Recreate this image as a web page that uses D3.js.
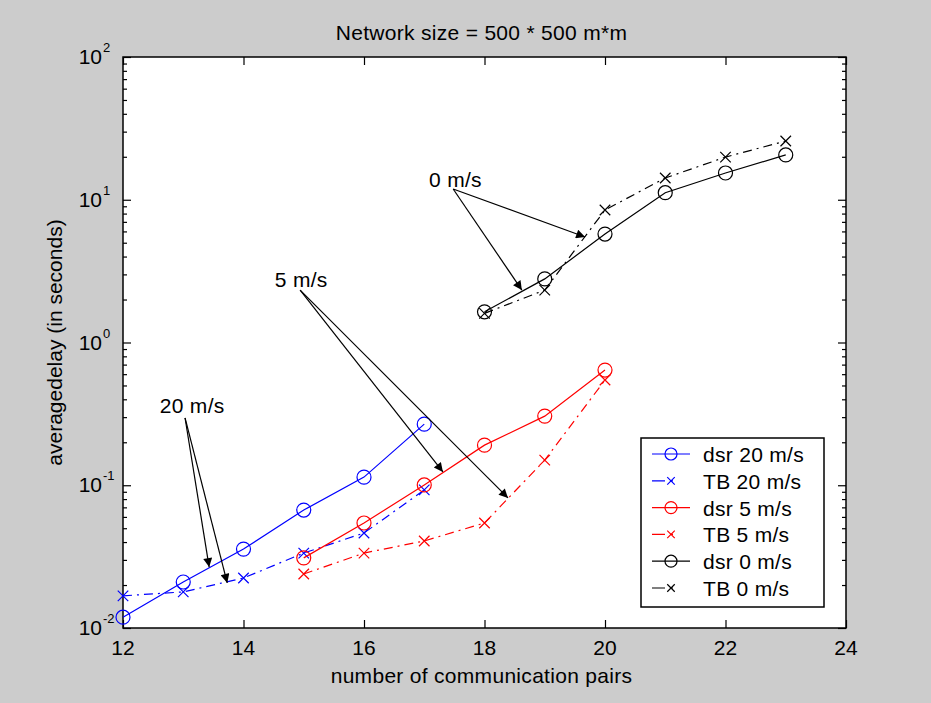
<!DOCTYPE html>
<html>
<head>
<meta charset="utf-8">
<script src="https://cdn.jsdelivr.net/npm/d3@7"></script>
<style>
  body { margin: 0; background: #cccccc; }
  svg { display: block; font-family: "Liberation Sans", Arial, sans-serif; }
  .lbl { letter-spacing: 0.3px; }
</style>
</head>
<body>
<svg width="931" height="703"></svg>
<script>
// data
const pairs20 = [12, 13, 14, 15, 16, 17];
const dsr20 = [0.0119, 0.021, 0.0357, 0.067, 0.114, 0.268];
const tb20 = [0.0168, 0.0179, 0.0224, 0.0335, 0.0463, 0.0927];

const pairs5 = [15, 16, 17, 18, 19, 20];
const dsr5 = [0.031, 0.0544, 0.1005, 0.191, 0.305, 0.641];
const tb5 = [0.0239, 0.0335, 0.0407, 0.0544, 0.150, 0.546];

const pairs0 = [18, 19, 20, 21, 22, 23];
const dsr0 = [1.64, 2.79, 5.75, 11.2, 15.4, 20.6];
const tb0 = [1.6, 2.33, 8.48, 14.2, 19.9, 25.8];

const xTicks = [12, 14, 16, 18, 20, 22, 24];
const yExps = [-2, -1, 0, 1, 2];

const seriesNames = ["dsr 20 m/s", "TB 20 m/s", "dsr 5 m/s", "TB 5 m/s", "dsr 0 m/s", "TB 0 m/s"];

// annotations (data coordinates)
const noteText = ["0 m/s", "5 m/s", "20 m/s"];
const noteAt = [[17.08, 12.3], [14.52, 2.45], [12.61, 0.321]];
const noteFrom = [[17.48, 11.9], [14.94, 2.33], [13.03, 0.296]];
const noteTo = [
    [[19.67, 5.48], [18.62, 2.33]],
    [[17.31, 0.124], [18.39, 0.0815]],
    [[13.43, 0.0267], [13.73, 0.0207]]
];

const svg = d3.select("svg");
const W = +svg.attr("width");
const H = +svg.attr("height");

svg.append("rect").attr("width", W).attr("height", H).attr("fill", "#cccccc");

const pLeft = 123, pRight = 846, pTop = 57, pBottom = 628;

const x = d3.scaleLinear().domain([12, 24]).range([pLeft, pRight]);
const y = d3.scaleLog().domain([0.01, 100]).range([pBottom, pTop]);

svg.append("rect")
    .attr("x", pLeft).attr("y", pTop)
    .attr("width", pRight - pLeft).attr("height", pBottom - pTop)
    .attr("fill", "#fff");

// minor ticks on log scale
const minor = [];
yExps.slice(0, -1).forEach(e => {
    for (let m = 2; m <= 9; m++) minor.push(m * Math.pow(10, e));
});
const major = yExps.map(e => Math.pow(10, e));

function axisStyle(g) {
    g.select(".domain").remove();
    g.selectAll("line").attr("stroke", "#000").attr("stroke-width", 1.2);
    g.selectAll("text").remove();
}

svg.append("g").attr("transform", `translate(0,${pBottom})`)
    .call(d3.axisBottom(x).tickValues(xTicks).tickSize(-8)).call(axisStyle);
svg.append("g").attr("transform", `translate(0,${pTop})`)
    .call(d3.axisTop(x).tickValues(xTicks).tickSize(-8)).call(axisStyle);
svg.append("g").attr("transform", `translate(${pLeft},0)`)
    .call(d3.axisLeft(y).tickValues(major).tickSize(-8)).call(axisStyle);
svg.append("g").attr("transform", `translate(${pLeft},0)`)
    .call(d3.axisLeft(y).tickValues(minor).tickSize(-4)).call(axisStyle);
svg.append("g").attr("transform", `translate(${pRight},0)`)
    .call(d3.axisRight(y).tickValues(major).tickSize(-8)).call(axisStyle);
svg.append("g").attr("transform", `translate(${pRight},0)`)
    .call(d3.axisRight(y).tickValues(minor).tickSize(-4)).call(axisStyle);

svg.append("rect")
    .attr("x", pLeft).attr("y", pTop)
    .attr("width", pRight - pLeft).attr("height", pBottom - pTop)
    .attr("fill", "none").attr("stroke", "#000").attr("stroke-width", 1.5);

// tick labels
svg.append("g").selectAll("text")
    .data(xTicks).enter().append("text")
    .attr("x", d => x(d)).attr("y", pBottom + 27)
    .attr("text-anchor", "middle")
    .attr("font-size", 21)
    .text(d => d);

const yl = svg.append("g").selectAll("g")
    .data(yExps).enter().append("g");
yl.append("text")
    .attr("x", pLeft - 21).attr("y", d => y(Math.pow(10, d)) + 7)
    .attr("text-anchor", "end").attr("font-size", 21)
    .text("10");
yl.append("text")
    .attr("x", pLeft - 20).attr("y", d => y(Math.pow(10, d)) - 5)
    .attr("font-size", 13)
    .text(d => d);

// titles
svg.append("text").attr("class", "lbl")
    .attr("x", (pLeft + pRight) / 2 - 3).attr("y", 40)
    .attr("text-anchor", "middle").attr("font-size", 21)
    .text("Network size = 500 * 500 m*m");
svg.append("text").attr("class", "lbl")
    .attr("x", (pLeft + pRight) / 2 - 3).attr("y", 683)
    .attr("text-anchor", "middle").attr("font-size", 21)
    .text("number of communication pairs");
svg.append("text")
    .attr("transform", `translate(62,${(pTop + pBottom) / 2}) rotate(-90)`)
    .attr("text-anchor", "middle").attr("font-size", 21)
    .text("averagedelay (in seconds)");

// series
const series = [
    { xs: pairs20, ys: dsr20, color: "#0000ff", marker: "o" },
    { xs: pairs20, ys: tb20, color: "#0000ff", marker: "x" },
    { xs: pairs5, ys: dsr5, color: "#ff0000", marker: "o" },
    { xs: pairs5, ys: tb5, color: "#ff0000", marker: "x" },
    { xs: pairs0, ys: dsr0, color: "#000000", marker: "o" },
    { xs: pairs0, ys: tb0, color: "#000000", marker: "x" }
];

const line = d3.line().x(d => x(d[0])).y(d => y(d[1]));

function drawMarker(g, kind, cx, cy, color, r) {
    if (kind === "o") {
        g.append("circle").attr("cx", cx).attr("cy", cy).attr("r", r)
            .attr("fill", "none").attr("stroke", color).attr("stroke-width", 1.2);
    } else {
        const s = r * 0.75;
        g.append("path")
            .attr("d", `M${cx - s},${cy - s}L${cx + s},${cy + s}M${cx - s},${cy + s}L${cx + s},${cy - s}`)
            .attr("stroke", color).attr("stroke-width", 1.2);
    }
}

const plot = svg.append("g");
series.forEach(s => {
    const pts = s.xs.map((v, i) => [v, s.ys[i]]);
    plot.append("path")
        .attr("d", line(pts))
        .attr("fill", "none")
        .attr("stroke", s.color)
        .attr("stroke-width", 1.2)
        .attr("stroke-dasharray", s.marker === "x" ? "9,5,2,5" : null);
    pts.forEach(p => drawMarker(plot, s.marker, x(p[0]), y(p[1]), s.color, 7));
});

// annotations
svg.append("defs").append("marker")
    .attr("id", "head")
    .attr("viewBox", "0 0 10 10")
    .attr("refX", 10).attr("refY", 5)
    .attr("markerWidth", 15).attr("markerHeight", 9)
    .attr("markerUnits", "userSpaceOnUse")
    .attr("orient", "auto")
    .append("path").attr("d", "M0,0L10,5L0,10Z").attr("fill", "#000");

const notes = svg.append("g");
noteText.forEach((t, i) => {
    notes.append("text").attr("class", "lbl")
        .attr("x", x(noteAt[i][0])).attr("y", y(noteAt[i][1]))
        .attr("font-size", 21).text(t);
    noteTo[i].forEach(p => {
        notes.append("line")
            .attr("x1", x(noteFrom[i][0])).attr("y1", y(noteFrom[i][1]))
            .attr("x2", x(p[0])).attr("y2", y(p[1]))
            .attr("stroke", "#000").attr("stroke-width", 1.2)
            .attr("marker-end", "url(#head)");
    });
});

// legend
const lx = 641, ly = 438, lw = 183, lh = 169, row = 26.8;
const legend = svg.append("g");
legend.append("rect")
    .attr("x", lx).attr("y", ly).attr("width", lw).attr("height", lh)
    .attr("fill", "#fff").attr("stroke", "#000").attr("stroke-width", 1.5);
series.forEach((s, i) => {
    const cy = ly + 16 + i * row;
    legend.append("line")
        .attr("x1", lx + 11).attr("x2", lx + 49)
        .attr("y1", cy).attr("y2", cy)
        .attr("stroke", s.color).attr("stroke-width", 1.2)
        .attr("stroke-dasharray", s.marker === "x" ? "13,5,3,30" : null);
    drawMarker(legend, s.marker, lx + 30, cy, s.color, s.marker === "o" ? 6 : 5);
    legend.append("text").attr("class", "lbl")
        .attr("x", lx + 62).attr("y", cy + 8)
        .attr("font-size", 21)
        .text(seriesNames[i]);
});
</script>
</body>
</html>
